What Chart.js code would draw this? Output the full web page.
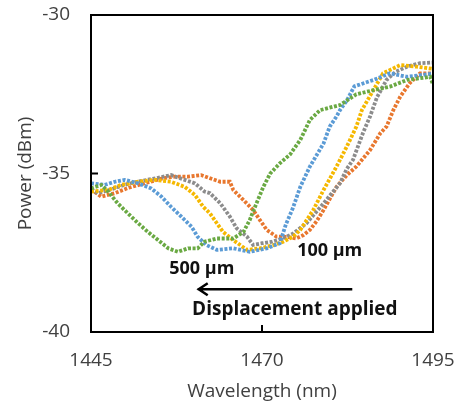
<!DOCTYPE html>
<html>
<head>
<meta charset="utf-8">
<script src="https://cdn.jsdelivr.net/npm/chart.js@4.4.0/dist/chart.umd.min.js"></script>
<style>
  html, body { margin: 0; padding: 0; background: #fff; }
</style>
</head>
<body>
<canvas id="spectrumChart" width="461" height="408"></canvas>
<script>
// 数据：波长 (nm) 与功率 (dBm)
const xTicks = [1445, 1470, 1495];
const yTicks = [-40, -35, -30];

// 100 µm (橙)
const orangeWl = [1445, 1446.5, 1448.5, 1450.5, 1453, 1455.5, 1457.2, 1459.2, 1461.1, 1462.4, 1463.9, 1465.3, 1465.8, 1467.3, 1468.7, 1469.7, 1470.7, 1472.1, 1473.6, 1475, 1476, 1477, 1478, 1479, 1480.9, 1482.4, 1483.8, 1485.8, 1487.3, 1488.2, 1489.2, 1490.2, 1491.6, 1493.1, 1495];
const orangePw = [-35.5, -35.73, -35.62, -35.45, -35.3, -35.15, -35.1, -35.1, -35.05, -35.15, -35.26, -35.26, -35.52, -35.84, -36.15, -36.47, -36.78, -36.99, -37.0, -37.05, -36.95, -36.78, -36.5, -36.15, -35.42, -35.05, -34.78, -34.26, -33.73, -33.52, -33.0, -32.58, -32.15, -31.84, -31.84];

// 灰
const grayWl = [1445, 1446, 1448, 1450, 1452, 1454.5, 1456.7, 1458.7, 1460.2, 1461.6, 1462.4, 1463.9, 1465.3, 1466.3, 1467.8, 1468.7, 1470, 1471.5, 1473, 1474.5, 1476.5, 1479, 1481.4, 1482.4, 1483.3, 1484.8, 1485.8, 1486.8, 1488.2, 1489.5, 1491.2, 1493.1, 1495];
const grayPw = [-35.5, -35.62, -35.5, -35.35, -35.25, -35.15, -35.05, -35.2, -35.31, -35.57, -35.62, -35.94, -36.36, -36.73, -36.99, -37.25, -37.2, -37.15, -37.05, -36.9, -36.57, -35.94, -35.31, -34.85, -34.57, -33.7, -33.2, -32.6, -32.05, -31.8, -31.63, -31.52, -31.5];

// 黄
const yellowWl = [1445, 1447.5, 1449.4, 1451.9, 1454.3, 1456.7, 1458.7, 1460.2, 1461.4, 1462.4, 1463.4, 1464.3, 1465.8, 1467.8, 1469.7, 1471.7, 1473.1, 1474.5, 1475.6, 1477.5, 1479, 1480.9, 1482.4, 1483.8, 1484.6, 1485.8, 1487.7, 1490.2, 1492.6, 1495];
const yellowPw = [-35.57, -35.52, -35.36, -35.26, -35.2, -35.26, -35.42, -35.68, -36.05, -36.26, -36.57, -36.84, -37.1, -37.41, -37.36, -37.26, -37.15, -37.0, -36.78, -36.15, -35.52, -34.78, -34.15, -33.52, -33.0, -32.55, -31.84, -31.58, -31.63, -31.7];

// 蓝
const blueWl = [1445, 1447, 1448.5, 1449.9, 1451.9, 1453.8, 1455.3, 1456.7, 1458.2, 1459.7, 1460.6, 1461.9, 1463.4, 1465.8, 1468.2, 1470.7, 1472.6, 1473.5, 1474.5, 1475.6, 1477, 1479, 1479.9, 1480.9, 1481.4, 1482.4, 1483.5, 1486.3, 1488.7, 1491.2, 1495];
const bluePw = [-35.31, -35.36, -35.26, -35.2, -35.31, -35.47, -35.73, -36.05, -36.36, -36.68, -37.0, -37.26, -37.41, -37.36, -37.47, -37.36, -37.2, -36.6, -36.1, -35.42, -34.78, -34.05, -33.52, -33.2, -33.0, -32.7, -32.25, -32.05, -31.84, -31.95, -31.85];

// 500 µm (绿)
const greenWl = [1445, 1446.5, 1447.5, 1448.9, 1450.4, 1451.9, 1453.3, 1454.8, 1456.3, 1457.7, 1459.2, 1460.6, 1461.6, 1463.4, 1465.8, 1467.3, 1468.2, 1469.2, 1470.2, 1471.2, 1472.6, 1474.1, 1475.6, 1477, 1478.5, 1481.4, 1483.8, 1486.3, 1488.7, 1491.2, 1494.6, 1495];
const greenPw = [-35.47, -35.36, -35.57, -35.94, -36.26, -36.57, -36.84, -37.1, -37.36, -37.47, -37.36, -37.36, -37.15, -37.05, -37.05, -36.84, -36.47, -35.94, -35.42, -35.0, -34.68, -34.4, -33.94, -33.31, -33.0, -32.84, -32.5, -32.37, -32.26, -32.05, -31.95, -32.2];

function toPoints(wl, pw) {
    return wl.map((x, i) => ({ x: x, y: pw[i] }));
}

function series(wl, pw, color) {
    return {
        data: toPoints(wl, pw),
        borderColor: color,
        backgroundColor: color,
        borderWidth: 3.8,
        borderDash: [3, 1.6],
        pointRadius: 0,
        tension: 0
    };
}

// 画框、内向刻度和标注文字
const framePlugin = {
    id: 'frame',
    afterDraw(chart) {
        const { ctx, chartArea: a, scales: { x, y } } = chart;
        ctx.save();
        ctx.strokeStyle = '#000';
        ctx.lineWidth = 2;
        ctx.strokeRect(a.left, a.top, a.right - a.left, a.bottom - a.top);

        ctx.beginPath();
        xTicks.forEach(v => {
            const px = x.getPixelForValue(v);
            ctx.moveTo(px, a.bottom);
            ctx.lineTo(px, a.bottom - 7);
        });
        yTicks.forEach(v => {
            const py = y.getPixelForValue(v);
            ctx.moveTo(a.left, py);
            ctx.lineTo(a.left + 7, py);
        });
        ctx.stroke();

        ctx.fillStyle = '#111';
        ctx.textAlign = 'center';
        ctx.textBaseline = 'middle';
        ctx.font = 'bold 18px "Open Sans"';
        ctx.fillText('100 µm', x.getPixelForValue(1479.9), y.getPixelForValue(-37.45));
        ctx.fillText('500 µm', x.getPixelForValue(1461.2), y.getPixelForValue(-38.02));
        ctx.font = 'bold 19px "Open Sans"';
        ctx.fillText('Displacement applied', x.getPixelForValue(1474.8), y.getPixelForValue(-39.3));

        // 箭头
        const ay = y.getPixelForValue(-38.65);
        const ax0 = x.getPixelForValue(1483.2);
        const ax1 = x.getPixelForValue(1460.6);
        ctx.lineWidth = 2.5;
        ctx.beginPath();
        ctx.moveTo(ax0, ay);
        ctx.lineTo(ax1, ay);
        ctx.moveTo(ax1 + 10, ay - 6);
        ctx.lineTo(ax1 + 1, ay);
        ctx.lineTo(ax1 + 10, ay + 6);
        ctx.stroke();
        ctx.restore();
    }
};

const ctx = document.getElementById('spectrumChart').getContext('2d');
new Chart(ctx, {
    type: 'line',
    data: {
        datasets: [
            series(greenWl, greenPw, '#6aa943'),
            series(blueWl, bluePw, '#5b9bd5'),
            series(yellowWl, yellowPw, '#f5b800'),
            series(grayWl, grayPw, '#8c8c8c'),
            series(orangeWl, orangePw, '#e8772e')
        ]
    },
    options: {
        responsive: false,
        animation: false,
        layout: { padding: { top: 15, right: 28, left: 0, bottom: 0 } },
        plugins: {
            legend: { display: false },
            tooltip: { enabled: false }
        },
        scales: {
            x: {
                type: 'linear',
                min: 1445,
                max: 1495,
                afterFit: s => { s.height = 76; s.paddingLeft = 0; s.paddingRight = 0; },
                afterBuildTicks: s => { s.ticks = xTicks.map(v => ({ value: v })); },
                grid: { display: false, drawTicks: false },
                border: { display: false },
                ticks: {
                    color: '#404040',
                    padding: 17,
                    maxRotation: 0,
                    callback: v => String(v),
                    font: { family: 'Open Sans', size: 19 }
                },
                title: {
                    display: true,
                    text: 'Wavelength (nm)',
                    color: '#404040',
                    padding: { top: 0, bottom: 5 },
                    font: { family: 'Open Sans', size: 19 }
                }
            },
            y: {
                type: 'linear',
                min: -40,
                max: -30,
                afterFit: s => { s.width = 91; s.paddingTop = 0; s.paddingBottom = 0; },
                afterBuildTicks: s => { s.ticks = yTicks.map(v => ({ value: v })); },
                grid: { display: false, drawTicks: false },
                border: { display: false },
                ticks: {
                    color: '#404040',
                    padding: 21,
                    callback: v => String(v),
                    font: { family: 'Open Sans', size: 19 }
                },
                title: {
                    display: true,
                    text: 'Power (dBm)',
                    color: '#404040',
                    padding: { top: 14, bottom: 0 },
                    font: { family: 'Open Sans', size: 19 }
                }
            }
        }
    },
    plugins: [framePlugin]
});
</script>
</body>
</html>
